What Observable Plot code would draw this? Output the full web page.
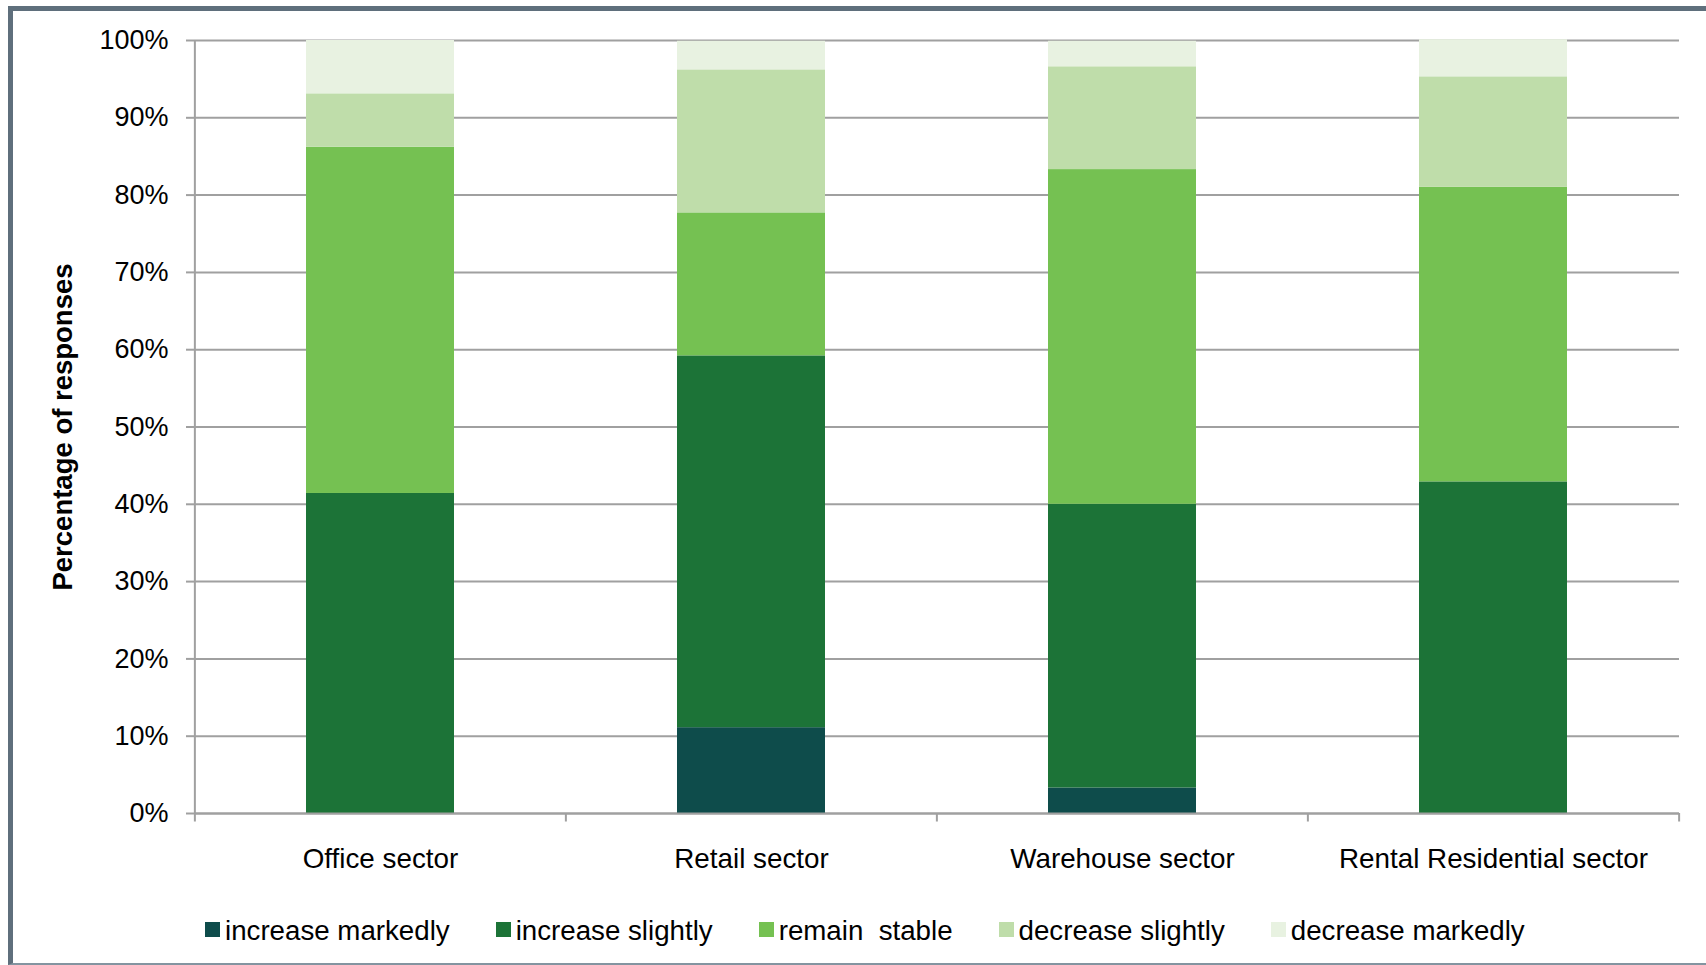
<!DOCTYPE html>
<html>
<head>
<meta charset="utf-8">
<script src="https://cdn.jsdelivr.net/npm/d3@7"></script>
<script src="https://cdn.jsdelivr.net/npm/@observablehq/plot@0.6"></script>
<style>
  html, body { margin: 0; padding: 0; background: #fff; }
  body { width: 1706px; height: 965px; position: relative; overflow: hidden; font-family: "Liberation Sans", Arial, sans-serif; }
  #frame { position: absolute; left: 8px; top: 6px; right: -10px; bottom: 0px; border-top: 5px solid #5f6f7c; border-left: 5px solid #5f6f7c; border-bottom: 2px solid #8394a0; }
  #chart { position: absolute; left: 0; top: 0; }
  #legend { position: absolute; left: 205px; top: 915px; display: flex; gap: 46px; font-size: 27.7px; color: #000; white-space: pre; }
  .item { display: flex; align-items: flex-start; line-height: 32px; }
  .sw { width: 15px; height: 15px; margin-right: 5px; margin-top: 7px; }
</style>
</head>
<body>
<div id="frame"></div>
<div id="chart"></div>
<div id="legend"></div>
<script>
const sectors = ["Office sector", "Retail sector", "Warehouse sector", "Rental Residential sector"];
const responses = ["increase markedly", "increase slightly", "remain  stable", "decrease slightly", "decrease markedly"];
const colors = ["#0e4c4b", "#1c7337", "#75c152", "#bfddaa", "#e8f2e1"];
// percentage of responses per sector, in the order of `responses`
const office = [0, 41.4, 44.8, 6.9, 6.9];
const retail = [11.1, 48.1, 18.5, 18.5, 3.7];
const warehouse = [3.3, 36.7, 43.3, 13.3, 3.3];
const rental = [0, 42.9, 38.1, 14.3, 4.8];
const yTicks = [0, 10, 20, 30, 40, 50, 60, 70, 80, 90, 100];

const series = [office, retail, warehouse, rental];
const data = [];
sectors.forEach((s, i) => responses.forEach((r, j) => data.push({sector: s, response: r, value: series[i][j]})));

const width = 1706, height = 880;
const marginLeft = 194, marginRight = 27;
const step = (width - marginLeft - marginRight) / sectors.length;
const grey = "#a0a0a0";

const chart = Plot.plot({
  width, height,
  marginLeft, marginRight, marginTop: 40, marginBottom: 67,
  style: {fontFamily: "'Liberation Sans', Arial, sans-serif", fontSize: "27px", color: "#000", background: "transparent", overflow: "visible"},
  x: {domain: sectors, paddingInner: 0.6, paddingOuter: 0.3},
  y: {domain: [0, 100]},
  color: {domain: responses, range: colors},
  marks: [
    Plot.gridY(yTicks, {stroke: grey, strokeOpacity: 1, strokeWidth: 2}),
    Plot.barY(data, {x: "sector", y: "value", fill: "response", order: responses, insetLeft: 0, insetRight: 0}),
    Plot.ruleY([0], {stroke: grey, strokeWidth: 2}),
    Plot.ruleX(sectors, {x: d => d, y1: -1.1, y2: d => d === sectors[0] ? 100 : 0, dx: -step / 2, stroke: grey, strokeWidth: 2}),
    Plot.ruleX([sectors[sectors.length - 1]], {x: d => d, y1: -1.1, y2: 0, dx: step / 2, stroke: grey, strokeWidth: 2}),
    Plot.axisY(yTicks, {tickSize: 8, tickPadding: 18, stroke: grey, strokeWidth: 2, tickFormat: d => d + "%", label: null, fontSize: 27, fill: "#000"}),
    Plot.axisX({tickSize: 0, tickPadding: 35, label: null, fontSize: 27.8, fill: "#000"}),
    Plot.text(["Percentage of responses"], {text: d => d, frameAnchor: "left", dx: -131, rotate: -90, textAnchor: "middle", lineAnchor: "middle", fontWeight: "bold", fontSize: 27.5, fill: "#000"})
  ]
});
document.getElementById("chart").appendChild(chart);

const legend = document.getElementById("legend");
responses.forEach((r, i) => {
  const item = document.createElement("div");
  item.className = "item";
  const sw = document.createElement("div");
  sw.className = "sw";
  sw.style.background = colors[i];
  const t = document.createElement("span");
  t.textContent = r;
  item.appendChild(sw);
  item.appendChild(t);
  legend.appendChild(item);
});
</script>
</body>
</html>
